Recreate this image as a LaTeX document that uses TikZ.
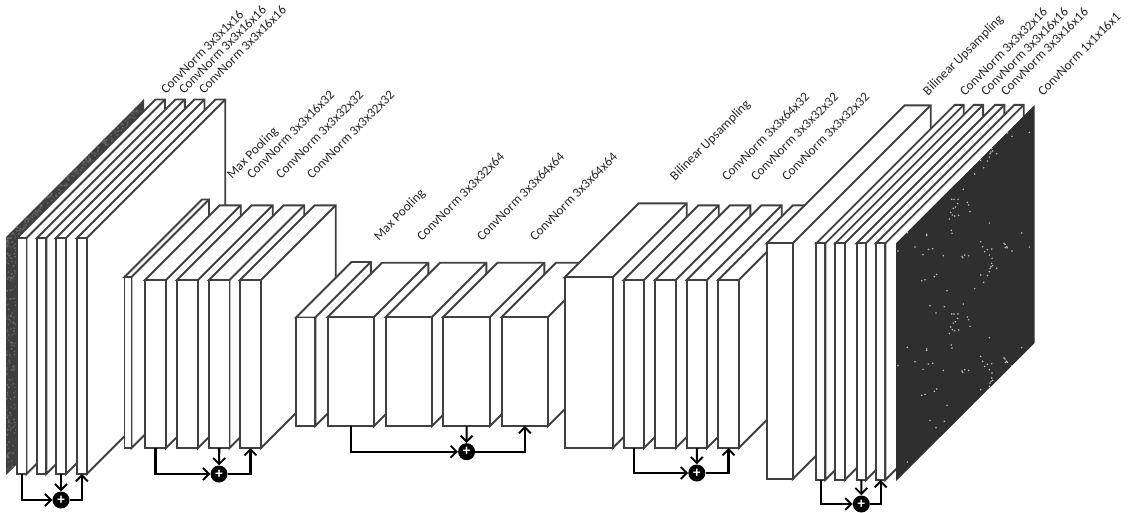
\documentclass[tikz,border=0pt]{standalone}
\usepackage{fontspec}
\setmainfont{Carlito}
\usetikzlibrary{arrows.meta}

\definecolor{edgeGray}{HTML}{404040}
\definecolor{sliceDark}{HTML}{2F2F2F}
\definecolor{inputDark}{HTML}{3E3E40}
\definecolor{speckGray}{HTML}{C4C4C4}

\tikzset{
    layerFace/.style={draw=edgeGray, fill=white, line width=1.9pt, line join=miter},
    frontFace/.style={layerFace, rectangle, inner sep=0pt, outer sep=0pt},
    netLabel/.style={rotate=45, anchor=base west, inner sep=0pt, outer sep=0pt, text=black!85, font=\fontsize{13.2}{14}\selectfont},
    plusNode/.style={circle, fill=black, text=white, inner sep=0pt, minimum size=17pt, font=\fontsize{15}{15}\selectfont\bfseries},
    skipLine/.style={draw=black, line width=2.1pt, -{Straight Barb[length=6pt, width=12pt, line width=1.9pt]}},
}

% name, left, right, top, bottom, depth
\newcommand{\layerbox}[6]{
    \draw[layerFace] (#2,#4) -- ++(#6,-#6) -- ++({#3-(#2)},0) -- ++(0,{#5-(#4)}) -- (#3,#5) -- (#3,#4) -- cycle;
    \draw[layerFace] (#3,#4) -- ++(#6,-#6);
    \node[frontFace, minimum width={#3-(#2)}, minimum height={#5-(#4)}] (#1) at ({(#2+#3)/2},{(#4+#5)/2}) {};
}

\begin{document}
\begin{tikzpicture}[x=1pt, y=-1pt]
    \useasboundingbox (0,0) rectangle (1131,512);

    % Input slice
    \path[fill=inputDark] (6,237) -- (144,99) -- (144,337) -- (6,475) -- cycle;
    \begin{scope}
        \clip (6,237) -- (144,99) -- (144,337) -- (6,475) -- cycle;
        \pgfmathsetseed{7}
        \foreach \i in {1,...,200} {
            \pgfmathsetmacro{\gx}{6+11*rnd}
            \pgfmathsetmacro{\gy}{230+246*rnd}
            \pgfmathsetmacro{\gs}{8+17*rnd}
            \fill[white!\gs!inputDark] (\gx,\gy) circle (1.1);
        }
        \foreach \i in {1,...,240} {
            \pgfmathsetmacro{\gx}{6+138*rnd}
            \pgfmathsetmacro{\gy}{237-(\gx-6)+12*rnd}
            \pgfmathsetmacro{\gs}{8+17*rnd}
            \fill[white!\gs!inputDark] (\gx,\gy) circle (1.1);
        }
    \end{scope}

    % First block
    \layerbox{convAa}{17}{26.5}{238}{474}{138.5}
    \layerbox{convAb}{37}{46.3}{238}{474}{138.5}
    \layerbox{convAc}{56}{66}{238}{474}{138.5}
    \layerbox{convAd}{77}{86.7}{238}{474}{138.5}

    % Second block
    \layerbox{poolB}{124.5}{131.5}{277}{448}{77.5}
    \layerbox{convBa}{145}{166}{280}{448}{74.7}
    \layerbox{convBb}{177}{198}{280}{448}{74.7}
    \layerbox{convBc}{209}{229.5}{280}{448}{74.7}
    \layerbox{convBd}{240}{261}{280}{448}{74.7}

    % Third block
    \layerbox{poolC}{296}{315.3}{317.5}{426}{55.5}
    \layerbox{convCa}{327.7}{374}{317}{426}{54.3}
    \layerbox{convCb}{385.7}{432}{317}{426}{54.3}
    \layerbox{convCc}{443.3}{490}{317}{426}{54.3}
    \layerbox{convCd}{501.7}{548}{317}{426}{54.3}

    % Fourth block
    \layerbox{upD}{564.7}{612.7}{277.3}{448}{74}
    \layerbox{convDa}{623.7}{644}{280}{448}{74.7}
    \layerbox{convDb}{655.3}{675.7}{280}{448}{74.7}
    \layerbox{convDc}{686.7}{707}{280}{448}{74.7}
    \layerbox{convDd}{718.3}{738.7}{280}{448}{74.7}

    % Fifth block
    \layerbox{upE}{766.7}{792.7}{243.3}{479}{138}
    \layerbox{convEa}{816.3}{825.3}{243.3}{480}{138.4}
    \layerbox{convEb}{835.3}{844.7}{243.3}{480}{138.4}
    \layerbox{convEc}{856.7}{866}{243.3}{480}{138.4}
    \layerbox{convEd}{876}{885.3}{243.3}{480}{138.4}

    % Output slice
    \path[fill=sliceDark] (896,243.3) -- (1034.7,105) -- (1034.7,343) -- (896,481) -- cycle;
    \begin{scope}
        \clip (896,243.3) -- (1034.7,105) -- (1034.7,343) -- (896,481) -- cycle;
        \foreach \shifty in {-114.67,0,114.67} {
            \foreach \sx/\sy in {110/2,272/20,278/35,305/42,292/44,284/50,298/60,345/28,350/35,342/25,346/38,352/38,366/48,418/36,24/48,75/36,115/43,128/41,99/59,160/62,218/68,216/64,224/60,236/62,306/70,305/85,308/92,300/100,303/95,320/100,298/110,292/122,272/120,281/142,254/161,140/118,133/125,105/134,95/137,171/167,120/212,163/215,138/234,220/207,204/237,185/237,192/237,232/246,236/254,203/250,196/260,190/264,240/274,182/276,187/284,194/287,206/285,178/296,298/308,184/330,186/339,52/337,110/342,395/338} {
                \fill[speckGray] ({890+\sx/3},{235+\sy/3+\shifty}) circle (0.85);
            }
        }
    \end{scope}

    % Sum nodes
    \node[plusNode] (addA) at (61,500) {+};
    \node[plusNode] (addB) at (219,474) {+};
    \node[plusNode] (addC) at (466.6,451.7) {+};
    \node[plusNode] (addD) at (696.8,473) {+};
    \node[plusNode] (addE) at (861.3,504) {+};

    % Draw connections
    \draw[skipLine] (convAa.south) |- (addA);
    \draw[skipLine] (convAc.south) -- (addA);
    \draw[skipLine] (addA) -| (convAd.south);
    \draw[skipLine] (convBa.south) |- (addB);
    \draw[skipLine] (convBc.south) -- (addB);
    \draw[skipLine] (addB) -| (convBd.south);
    \draw[skipLine] (convCa.south) |- (addC);
    \draw[skipLine] (convCc.south) -- (addC);
    \draw[skipLine] (addC) -| (convCd.south);
    \draw[skipLine] (convDa.south) |- (addD);
    \draw[skipLine] (convDc.south) -- (addD);
    \draw[skipLine] (addD) -| (convDd.south);
    \draw[skipLine] (convEa.south) |- (addE);
    \draw[skipLine] (convEc.south) -- (addE);
    \draw[skipLine] (addE) -| (convEd.south);

    % Labels
    \node[netLabel] (labelAa) at (166,94) {ConvNorm 3x3x1x16};
    \node[netLabel] (labelAb) at (184,94) {ConvNorm 3x3x16x16};
    \node[netLabel] (labelAc) at (204,94) {ConvNorm 3x3x16x16};
    \node[netLabel] (labelBp) at (232,179) {Max Pooling};
    \node[netLabel] (labelBa) at (252,179) {ConvNorm 3x3x16x32};
    \node[netLabel] (labelBb) at (281,179) {ConvNorm 3x3x32x32};
    \node[netLabel] (labelBc) at (312,179) {ConvNorm 3x3x32x32};
    \node[netLabel] (labelCp) at (379,241) {Max Pooling};
    \node[netLabel] (labelCa) at (422,241) {ConvNorm 3x3x32x64};
    \node[netLabel] (labelCb) at (482,241) {ConvNorm 3x3x64x64};
    \node[netLabel] (labelCc) at (535,241) {ConvNorm 3x3x64x64};
    \node[netLabel] (labelDu) at (675,181) {Bilinear Upsampling};
    \node[netLabel] (labelDa) at (727,181) {ConvNorm 3x3x64x32};
    \node[netLabel] (labelDb) at (756,181) {ConvNorm 3x3x32x32};
    \node[netLabel] (labelDc) at (787,181) {ConvNorm 3x3x32x32};
    \node[netLabel] (labelEu) at (928,96) {Bilinear Upsampling};
    \node[netLabel] (labelEa) at (965,96) {ConvNorm 3x3x32x16};
    \node[netLabel] (labelEb) at (986,96) {ConvNorm 3x3x16x16};
    \node[netLabel] (labelEc) at (1006,96) {ConvNorm 3x3x16x16};
    \node[netLabel] (labelEd) at (1043,96) {ConvNorm 1x1x16x1};
\end{tikzpicture}
\end{document}
